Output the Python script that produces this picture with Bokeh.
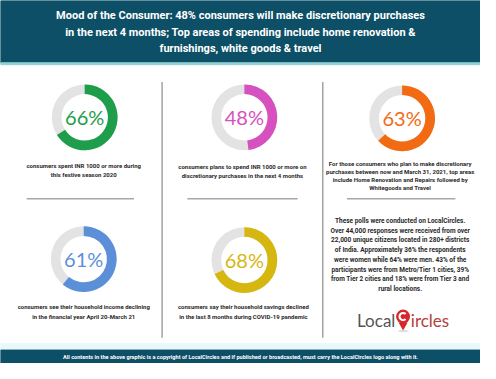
import math
from bokeh.plotting import figure
from bokeh.models import Range1d
from bokeh.core.properties import value
from bokeh.embed import file_html
from bokeh.resources import INLINE

# ---------------- data ----------------
title_lines = [
    "Mood of the Consumer: 48% consumers will make discretionary purchases",
    "in the next 4 months; Top areas of spending include home renovation &",
    "furnishings, white goods & travel",
]
pct_values = [66, 48, 63, 61, 68]
pct_colors = ["#1e9e4b", "#d750c0", "#f26b12", "#5b8fd8", "#d6b70f"]
captions = [
    ["consumers spent INR 1000 or more during", "this festive season 2020"],
    ["consumers plans to spend INR 1000 or more on",
     "discretionary purchases in the next 4 months"],
    ["For those consumers who plan to make discretionary",
     "purchases between now and March 31, 2021, top areas",
     "include Home Renovation and Repairs followed by",
     "Whitegoods and Travel"],
    ["consumers see their household income declining",
     "in the financial year April 20-March 21"],
    ["consumers say their household savings declined",
     "in the last 8 months during COVID-19 pandemic"],
]
notes_lines = [
    "These polls were conducted on LocalCircles.",
    "Over 44,000 responses were received from over",
    "22,000 unique citizens located in 280+ districts",
    "of India. Approximately 36% the respondents",
    "were women while 64% were men. 43% of the",
    "participants were from Metro/Tier 1 cities, 39%",
    "from Tier 2 cities and 18% were from Tier 3 and",
    "rural locations.",
]
footer_text = ("All contents in the above graphic is a copyright of LocalCircles and if "
               "published or broadcasted, must carry the LocalCircles logo along with it.")

# ---------------- layout ----------------
W, H = 496, 379
def Y(y):
    return H - y

TEAL = "#0d4f66"
p = figure(width=480, height=363, x_range=Range1d(0, W), y_range=Range1d(0, H),
           output_backend="svg", toolbar_location=None, min_border=0)
p.axis.visible = False
p.grid.visible = False
p.outline_line_color = None
p.background_fill_color = "white"
p.border_fill_color = "white"

# header / footer bands
p.quad(left=[0], right=[W], top=[Y(0)], bottom=[Y(65)], color=TEAL)
p.quad(left=[0], right=[W], top=[Y(65)], bottom=[Y(67)], color="#8fd0d4")
p.quad(left=[0], right=[W], top=[Y(358)], bottom=[Y(365)], color="#e8f8fa")
p.quad(left=[0], right=[W], top=[Y(365)], bottom=[0], color=TEAL)

for i, line in enumerate(title_lines):
    p.text(x=[W / 2], y=[Y(16 + 17 * i)], text=[line], text_align="center",
           text_baseline="middle", text_color="white", text_font=value("Roboto"),
           text_font_style="bold", text_font_size="11px")

p.text(x=[W / 2], y=[Y(372)], text=[footer_text], text_align="center",
       text_baseline="middle", text_color="white", text_font=value("Roboto"),
       text_font_style="bold", text_font_size="5.6px")

# separators
p.segment(x0=[167, 333], y0=[Y(85)] * 2, x1=[167, 333], y1=[Y(352)] * 2,
          line_color="#a3a3a3", line_width=1.5)
p.segment(x0=[27, 193, 358], y0=[Y(207)] * 3, x1=[138, 307, 470], y1=[Y(207)] * 3,
          line_color="#a8a8a8", line_width=1.5)

# donuts
cx = [87, 252, 415, 86, 252]
cy = [122, 122, 123, 270, 271]
r_out, r_in = 34, 24
p.annulus(x=cx, y=[Y(v) for v in cy], inner_radius=r_in, outer_radius=r_out,
          fill_color="#e3e3e3", line_color=None)
ends = [math.pi / 2 - 2 * math.pi * v / 100 for v in pct_values]
p.annular_wedge(x=cx, y=[Y(v) for v in cy], inner_radius=r_in, outer_radius=r_out,
                start_angle=[math.pi / 2] * 5, end_angle=ends, direction="clock",
                fill_color=pct_colors, line_color=None)
p.text(x=cx, y=[Y(v) for v in cy], text=[f"{v}%" for v in pct_values],
       text_align="center", text_baseline="middle", text_color=pct_colors,
       text_font=value("Lato"), text_font_size="20px")

# captions
cap_x = [86, 250, 413, 86, 251]
cap_y0 = [172, 173, 170, 320, 320]
cap_dy = [9.5, 9.5, 8.5, 9.5, 9.5]
for j, lines in enumerate(captions):
    for i, line in enumerate(lines):
        p.text(x=[cap_x[j]], y=[Y(cap_y0[j] + cap_dy[j] * i)], text=[line],
               text_align="center", text_baseline="middle", text_color="#2a2a2a",
               text_font=value("Roboto"), text_font_style="bold",
               text_font_size="6px")

for i, line in enumerate(notes_lines):
    p.text(x=[413], y=[Y(230 + 10.2 * i)], text=[line], text_align="center",
           text_baseline="middle", text_color="#2a2a2a", text_font=value("Roboto"),
           text_font_style="bold", text_font_size="6.5px")

# logo
p.text(x=[408], y=[Y(334)], text=["Local"], text_align="right",
       text_baseline="alphabetic", text_color="#555555", text_font=value("Lato"),
       text_font_size="17px")
p.text(x=[424], y=[Y(334)], text=["ircles"], text_align="left",
       text_baseline="alphabetic", text_color="#b5403b", text_font=value("Lato"),
       text_font_size="17px")
p.ellipse(x=[416], y=[Y(345)], width=10, height=2.5, fill_color="#cccccc",
          line_color=None, fill_alpha=0.6)
p.scatter(x=[416], y=[Y(339)], marker="inverted_triangle", size=9,
          fill_color="#d9262b", line_color=None)
p.circle(x=[416], y=[Y(330)], radius=7.2, fill_color="#d9262b", line_color=None)
p.annular_wedge(x=[416], y=[Y(330)], inner_radius=2.6, outer_radius=4.8,
                start_angle=[math.radians(45)], end_angle=[math.radians(315)],
                fill_color="white", line_color=None)

open("out.html", "w").write(file_html(p, INLINE))
